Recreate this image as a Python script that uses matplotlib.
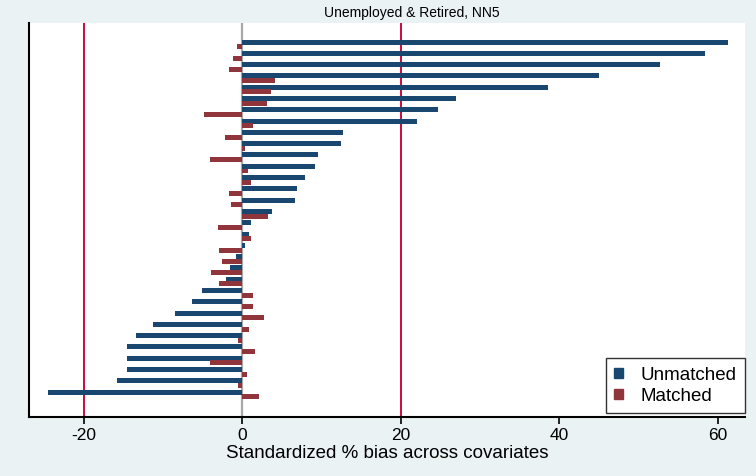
import matplotlib
matplotlib.use("Agg")
import matplotlib.pyplot as plt
import numpy as np
from matplotlib.patches import Patch

# Standardized % bias per covariate, sorted by unmatched bias
unmatched = [61.2, 58.3, 52.7, 45.0, 38.6, 27.0, 24.7, 22.0, 12.7, 12.5,
             9.6, 9.2, 7.9, 6.9, 6.7, 3.8, 1.1, 0.9, 0.4, -0.8,
             -1.5, -2.0, -5.1, -6.3, -8.5, -11.2, -13.4, -14.5, -14.5, -14.5,
             -15.8, -24.5]
matched = [-0.7, -1.2, -1.7, 4.1, 3.6, 3.1, -4.8, 1.4, -2.2, 0.4,
           -4.1, 0.7, 1.1, -1.7, -1.4, 3.3, -3.1, 1.1, -3.0, -2.5,
           -3.9, -2.9, 1.3, 1.4, 2.8, 0.9, -0.5, 1.6, -4.1, 0.6,
           -0.5, 2.1]
xticks = [-20, 0, 20, 40, 60]
ref_lines = [-20, 20]
title = "Unemployed & Retired, NN5"
xlabel = "Standardized % bias across covariates"
series_names = ["Unmatched", "Matched"]

BG = "#eaf2f3"
BLUE = "#1a476f"
RED = "#90353b"
CRIMSON = "#cc0a3c"

plt.rcParams["font.family"] = ["Liberation Sans", "DejaVu Sans"]

fig = plt.figure(figsize=(7.56, 4.76), dpi=100, facecolor=BG)
ax = fig.add_axes([29 / 756, 1 - 417 / 476, 716 / 756, 394 / 476])
ax.set_facecolor("white")

pos = np.arange(len(unmatched))
h = 0.44
ax.barh(pos - 0.21, unmatched, height=h, color=BLUE, zorder=3)
ax.barh(pos + 0.21, matched, height=h, color=RED, zorder=3)

ax.axvline(0, color="#a8a8a8", lw=1.6, zorder=2)
for v in ref_lines:
    ax.axvline(v, color=CRIMSON, lw=1.4, zorder=2)

ax.set_ylim(33.0, -1.9)
ax.set_xlim(-26.9, 63.4)
ax.set_yticks([])
ax.set_xticks(xticks)
ax.set_xticklabels([str(t) for t in xticks], fontsize=12.5)
ax.tick_params(axis="x", direction="out", length=5, width=1.2, color="black", pad=3)

for s in ["top", "right"]:
    ax.spines[s].set_visible(False)
for s in ["left", "bottom"]:
    ax.spines[s].set_color("black")
    ax.spines[s].set_linewidth(1.5)

ax.set_xlabel(xlabel, fontsize=13.5, labelpad=1)
fig.text(0.545, 1 - 13 / 476, title, ha="center", va="center", fontsize=10)

handles = [Patch(facecolor=BLUE, edgecolor=BLUE), Patch(facecolor=RED, edgecolor=RED)]
leg = ax.legend(handles, series_names, loc="lower right", bbox_to_anchor=(1.0, 0.01),
                borderaxespad=0, fontsize=13.5, frameon=True, fancybox=False,
                handlelength=0.45, handleheight=0.45, handletextpad=0.95,
                borderpad=0.45, labelspacing=0.2)
leg.get_frame().set_edgecolor("black")
leg.get_frame().set_linewidth(1.0)

fig.savefig("out.png", dpi=100, facecolor=BG)
